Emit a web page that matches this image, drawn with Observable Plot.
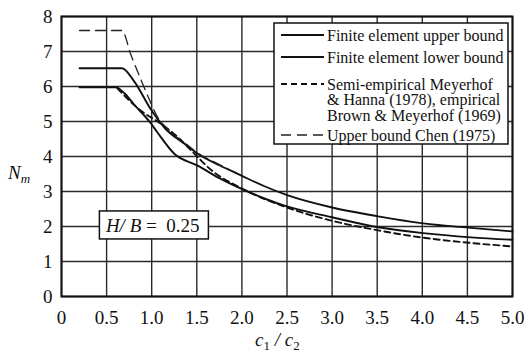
<!DOCTYPE html>
<html>
<head>
<meta charset="utf-8">
<script src="https://cdn.jsdelivr.net/npm/d3@7"></script>
<script src="https://cdn.jsdelivr.net/npm/@observablehq/plot@0.6"></script>
<style>
  html, body { margin: 0; padding: 0; background: #fff; }
  #chart { width: 528px; height: 358px; }
</style>
</head>
<body>
<div id="chart"></div>
<script>
// ---- data ----
const upperX = [0.2, 0.67, 0.8, 0.99, 1.15, 1.36, 1.51, 1.75, 1.99, 2.25, 2.51, 2.99, 3.51, 4.01, 4.54, 5.0];
const upperY = [6.52, 6.52, 6.17, 5.35, 4.8, 4.37, 4.08, 3.75, 3.46, 3.15, 2.89, 2.55, 2.29, 2.09, 1.96, 1.86];

const lowerX = [0.2, 0.6, 0.7, 0.8, 0.99, 1.06, 1.25, 1.51, 1.75, 1.99, 2.25, 2.49, 2.99, 3.51, 4.01, 4.54, 5.0];
const lowerY = [5.98, 5.98, 5.8, 5.5, 4.95, 4.7, 4.08, 3.74, 3.38, 3.08, 2.8, 2.58, 2.27, 1.98, 1.81, 1.69, 1.62];

const semiX = [0.62, 0.66, 0.88, 1.1, 1.29, 1.4, 1.69, 1.99, 2.49, 2.99, 3.51, 4.01, 4.54, 5.0];
const semiY = [5.95, 5.84, 5.31, 4.94, 4.55, 4.27, 3.55, 3.1, 2.55, 2.17, 1.89, 1.68, 1.53, 1.43];

const chenX = [0.2, 0.67, 0.77, 0.88, 0.97, 1.05, 1.2, 1.36, 1.51, 1.75, 1.99];
const chenY = [7.6, 7.6, 6.9, 6.2, 5.65, 5.2, 4.72, 4.4, 4.1, 3.77, 3.47];

const xTicks = [0, 0.5, 1.0, 1.5, 2.0, 2.5, 3.0, 3.5, 4.0, 4.5, 5.0];
const xTickLabels = ["0", "0.5", "1.0", "1.5", "2.0", "2.5", "3.0", "3.5", "4.0", "4.5", "5.0"];
const yTicks = [0, 1, 2, 3, 4, 5, 6, 7, 8];

const seriesNames = [
  "Finite element upper bound",
  "Finite element lower bound",
  "Semi-empirical Meyerhof\n& Hanna (1978), empirical\nBrown & Meyerhof (1969)",
  "Upper bound Chen (1975)"
];
const annotation = { x: 1.03, y: 2.03, label: "0.25" };

// ---- build ----
const toPts = (xs, ys) => xs.map((x, i) => ({ x, y: ys[i] }));
const styles = [
  { stroke: "#111", strokeWidth: 1.9, dash: null },
  { stroke: "#111", strokeWidth: 1.9, dash: null },
  { stroke: "#111", strokeWidth: 1.9, dash: "6,4" },
  { stroke: "#222", strokeWidth: 1.3, dash: "10,6" }
];
const series = [toPts(upperX, upperY), toPts(lowerX, lowerY), toPts(semiX, semiY), toPts(chenX, chenY)];

const FONT = "Liberation Serif, Times New Roman, serif";

const plot = Plot.plot({
  width: 528,
  height: 358,
  marginLeft: 61,
  marginRight: 16,
  marginTop: 16,
  marginBottom: 62,
  style: { fontFamily: FONT, fontSize: "19px", background: "#fff", color: "#111" },
  x: { domain: [0, 5] },
  y: { domain: [0, 8] },
  marks: [
    Plot.gridX(xTicks, { stroke: "#2a2a2a", strokeOpacity: 1, strokeWidth: 1.4 }),
    Plot.gridY(yTicks, { stroke: "#2a2a2a", strokeOpacity: 1, strokeWidth: 1.4 }),
    ...series.map((pts, i) => Plot.line(pts, {
      x: "x", y: "y", curve: "monotone-x",
      stroke: styles[i].stroke, strokeWidth: styles[i].strokeWidth,
      strokeDasharray: styles[i].dash
    })),
    Plot.frame({ stroke: "#111", strokeWidth: 2 }),
    Plot.axisX(xTicks, { tickSize: 0, tickPadding: 14, label: null, tickFormat: (d, i) => xTickLabels[i] }),
    Plot.axisY(yTicks, { tickSize: 0, tickPadding: 9, label: null })
  ]
});
document.getElementById("chart").appendChild(plot);

const svg = d3.select(plot);
const sx = plot.scale("x"), sy = plot.scale("y");

// ---- legend ----
const lg = svg.append("g").attr("font-family", FONT).attr("font-size", 16).attr("fill", "#111")
  .attr("text-anchor", "start");
lg.append("rect").attr("x", 274).attr("y", 23).attr("width", 234).attr("height", 121)
  .attr("fill", "#fff").attr("stroke", "#111").attr("stroke-width", 1.5);
const rowY = [35, 57, 84, 135];
const textLines = [[35], [57], [84, 99.5, 115], [135]];
seriesNames.forEach((name, i) => {
  lg.append("line").attr("x1", 281).attr("x2", 324).attr("y1", rowY[i]).attr("y2", rowY[i])
    .attr("stroke", styles[i].stroke).attr("stroke-width", styles[i].strokeWidth)
    .attr("stroke-dasharray", styles[i].dash);
  name.split("\n").forEach((t, j) => {
    lg.append("text").attr("x", 327).attr("y", textLines[i][j]).attr("dy", "0.35em").text(t);
  });
});

// ---- H/B annotation ----
const ax = sx.apply(annotation.x), ay = sy.apply(annotation.y);
const ag = svg.append("g").attr("font-family", FONT).attr("font-size", 19).attr("fill", "#111")
  .attr("text-anchor", "start");
ag.append("rect").attr("x", ax - 54.5).attr("y", ay - 14).attr("width", 109).attr("height", 28)
  .attr("fill", "#fff").attr("stroke", "#111").attr("stroke-width", 1.5);
const at = ag.append("text").attr("x", ax - 48).attr("y", ay).attr("dy", "0.35em");
at.append("tspan").attr("font-style", "italic").text("H/ B");
at.append("tspan").text(" =  " + annotation.label);

// ---- axis titles ----
const yt = svg.append("text").attr("font-family", FONT).attr("font-size", 19).attr("fill", "#111")
  .attr("text-anchor", "start").attr("x", 8).attr("y", 179);
yt.append("tspan").attr("font-style", "italic").text("N");
yt.append("tspan").attr("font-style", "italic").attr("font-size", 13).attr("dy", 4).text("m");

const xt = svg.append("text").attr("font-family", FONT).attr("font-size", 19).attr("fill", "#111")
  .attr("text-anchor", "start").attr("x", 255).attr("y", 346);
xt.append("tspan").attr("font-style", "italic").text("c");
xt.append("tspan").attr("font-size", 13).attr("dy", 4).text("1");
xt.append("tspan").attr("dy", -4).attr("font-style", "italic").text(" / c");
xt.append("tspan").attr("font-size", 13).attr("dy", 4).text("2");
</script>
</body>
</html>
